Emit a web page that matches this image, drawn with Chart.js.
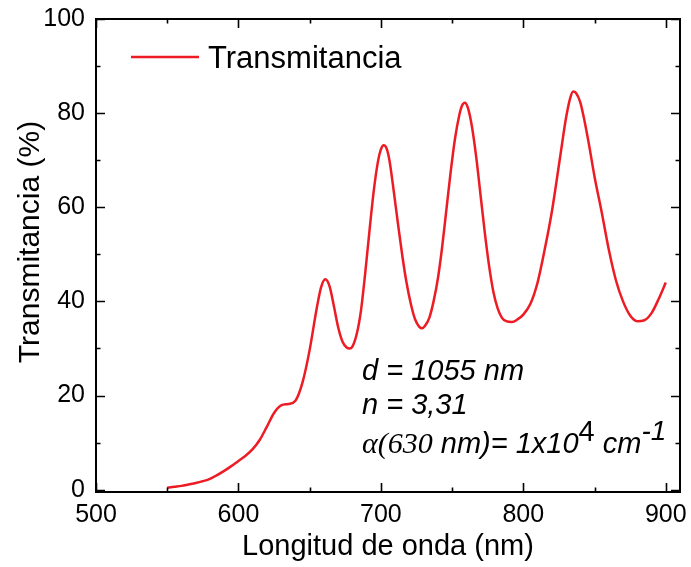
<!DOCTYPE html>
<html>
<head>
<meta charset="utf-8">
<script src="https://cdn.jsdelivr.net/npm/chart.js@4.4.1/dist/chart.umd.min.js"></script>
<style>
  html, body { margin: 0; padding: 0; background: #fff; }
  #wrap { width: 691px; height: 567px; }
</style>
</head>
<body>
<div id="wrap"><canvas id="c" width="691" height="567"></canvas></div>
<script>
const wavelength = [550, 555, 560, 565, 570, 575, 580, 585, 590, 595, 600, 605, 610, 615, 620, 625, 630, 635, 640, 645, 650, 655, 658, 661, 664, 667, 670, 673, 676, 678, 680, 683, 686, 689, 692, 695, 698, 700, 702, 704, 706, 709, 712, 715, 718, 721, 724, 727, 729, 731, 734, 737, 740, 743, 746, 749, 752, 755, 757, 759, 761, 764, 767, 770, 773, 776, 779, 782, 785, 788, 792, 796, 800, 805, 810, 815, 820, 826, 830, 833, 835, 837, 840, 843, 846, 850, 855, 860, 865, 870, 875, 880, 885, 890, 895, 900];
const transmittance = [0.4, 0.6, 0.8, 1.1, 1.4, 1.8, 2.3, 3.1, 4.0, 5.0, 6.1, 7.2, 8.6, 10.6, 13.4, 16.3, 17.9, 18.2, 18.9, 22.8, 29.7, 38.6, 43.0, 44.7, 43.2, 39.0, 34.5, 31.5, 30.2, 30.0, 30.4, 33.0, 38.0, 46.0, 55.0, 63.5, 69.8, 72.3, 73.2, 72.5, 70.0, 63.5, 56.5, 49.8, 44.0, 39.5, 36.2, 34.6, 34.3, 34.8, 36.5, 40.0, 44.8, 51.5, 59.5, 67.5, 74.5, 79.5, 81.6, 82.2, 81.2, 77.0, 70.5, 62.5, 54.5, 47.5, 42.0, 38.5, 36.5, 35.8, 35.6, 36.2, 37.2, 39.5, 44.0, 51.0, 59.0, 71.0, 79.0, 83.3, 84.6, 84.3, 82.3, 78.3, 73.5, 66.5, 59.0, 51.0, 44.5, 40.0, 37.0, 35.8, 36.0, 37.5, 40.5, 44.0];
const xTickLabels = [500, 600, 700, 800, 900];
const yTickLabels = [0, 20, 40, 60, 80, 100];
const xMinorTicks = [550, 650, 750, 850];
const yMinorTicks = [10, 30, 50, 70, 90];
const seriesName = 'Transmitancia';
const xTitle = 'Longitud de onda (nm)';
const yTitle = 'Transmitancia (%)';

const RED = 'rgb(237,28,36)';
const SANS = '"Liberation Sans", Arial, Helvetica, sans-serif';
const SERIF = '"Liberation Serif", "Times New Roman", serif';

const framePlugin = {
  id: 'frame',
  afterDraw(chart) {
    const ctx = chart.ctx;
    const a = chart.chartArea;
    const xs = chart.scales.x, ys = chart.scales.y;
    ctx.save();
    ctx.strokeStyle = '#000';
    ctx.lineWidth = 2;
    ctx.strokeRect(a.left, a.top, a.right - a.left, a.bottom - a.top);
    ctx.lineWidth = 1.6;
    const major = 9, minor = 4.5;
    ctx.beginPath();
    const tickX = (v, len) => {
      const px = Math.round(xs.getPixelForValue(v)) + 0.5;
      ctx.moveTo(px, a.bottom); ctx.lineTo(px, a.bottom - len);
      ctx.moveTo(px, a.top); ctx.lineTo(px, a.top + len);
    };
    const tickY = (v, len) => {
      const py = Math.round(ys.getPixelForValue(v)) + 0.5;
      ctx.moveTo(a.left, py); ctx.lineTo(a.left + len, py);
      ctx.moveTo(a.right, py); ctx.lineTo(a.right - len, py);
    };
    xTickLabels.forEach(v => tickX(v, major));
    xMinorTicks.forEach(v => tickX(v, minor));
    yTickLabels.forEach(v => tickY(v, major));
    yMinorTicks.forEach(v => tickY(v, minor));
    ctx.stroke();

    // y axis title
    ctx.fillStyle = '#000';
    ctx.save();
    ctx.translate(31, 242);
    ctx.rotate(-Math.PI / 2);
    ctx.font = '30px ' + SANS;
    ctx.textAlign = 'center';
    ctx.textBaseline = 'middle';
    ctx.fillText(yTitle, 0, 0);
    ctx.restore();

    // legend
    ctx.strokeStyle = RED;
    ctx.lineWidth = 2.5;
    ctx.beginPath();
    ctx.moveTo(a.left + 35, 57);
    ctx.lineTo(a.left + 103, 57);
    ctx.stroke();
    ctx.font = '31px ' + SANS;
    ctx.textBaseline = 'alphabetic';
    ctx.textAlign = 'left';
    ctx.fillText(seriesName, a.left + 112, 68);

    // annotations
    const x0 = 362;
    ctx.font = 'italic 29px ' + SANS;
    ctx.fillText('d = 1055 nm', x0, 380);
    ctx.fillText('n = 3,31', x0, 414);
    let x = x0;
    const y3 = 453;
    const seg = (txt, font, dy) => {
      ctx.font = font;
      ctx.fillText(txt, x, y3 + (dy || 0));
      x += ctx.measureText(txt).width;
    };
    seg('\u03B1(630', 'italic 30px ' + SERIF);
    seg(' nm)= 1x10', 'italic 29px ' + SANS);
    seg('4', '29px ' + SANS, -12);
    seg(' cm', 'italic 29px ' + SANS);
    seg('-1', 'italic 28px ' + SANS, -13);
    ctx.restore();
  }
};

new Chart(document.getElementById('c'), {
  type: 'line',
  data: {
    datasets: [{
      label: seriesName,
      data: wavelength.map((w, i) => ({ x: w, y: transmittance[i] })),
      borderColor: RED,
      borderWidth: 2.5,
      pointRadius: 0,
      fill: false,
      cubicInterpolationMode: 'monotone'
    }]
  },
  options: {
    responsive: false,
    animation: false,
    layout: { padding: { top: 19, right: 11, left: 0, bottom: 0 } },
    plugins: { legend: { display: false }, tooltip: { enabled: false } },
    scales: {
      x: {
        type: 'linear',
        min: 500, max: 910,
        afterBuildTicks: s => { s.ticks = xTickLabels.map(v => ({ value: v })); },
        afterFit: s => { s.height = 75; s.paddingLeft = 0; s.paddingRight = 0; },
        grid: { display: false, drawTicks: false },
        border: { display: false },
        ticks: { color: '#000', font: { family: SANS, size: 25 }, padding: 8, maxRotation: 0 },
        title: { display: true, text: xTitle, color: '#000', font: { family: SANS, size: 29 }, padding: { top: 0, bottom: 3 } }
      },
      y: {
        type: 'linear',
        min: -0.5, max: 100,
        afterBuildTicks: s => { s.ticks = yTickLabels.map(v => ({ value: v })); },
        afterFit: s => { s.width = 96; s.paddingTop = 0; s.paddingBottom = 0; },
        grid: { display: false, drawTicks: false },
        border: { display: false },
        ticks: { color: '#000', font: { family: SANS, size: 25 }, padding: 11 },
        title: { display: false }
      }
    }
  },
  plugins: [framePlugin]
});
</script>
</body>
</html>
